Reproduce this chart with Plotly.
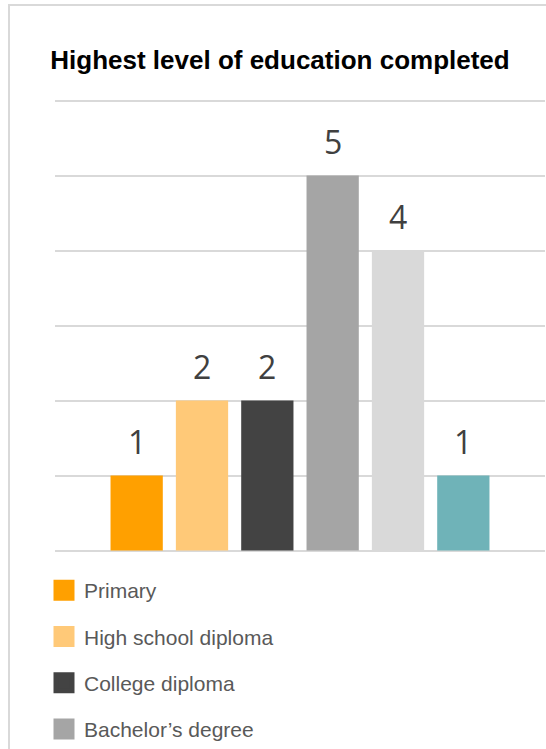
import plotly.graph_objects as go

categories = ["Primary", "High school diploma", "College diploma",
              "Bachelor’s degree", "Master’s degree", "Other"]
values = [1, 2, 2, 5, 4, 1]
colors = ["#FFA000", "#FFC978", "#434343", "#A5A5A5", "#D9D9D9", "#6FB3B8"]
title_text = "Highest level of education completed"

W, H = 546, 749
ML, MR, MT, MB = 55, 1, 99, 197

fig = go.Figure()
for i, (cat, val, col) in enumerate(zip(categories, values, colors)):
    fig.add_trace(go.Bar(
        x=[cat], y=[val], name=cat, marker=dict(color=col, line=dict(width=0)),
        showlegend=False, hoverinfo="skip",
    ))
    fig.add_annotation(
        x=cat, y=val, text=str(val), showarrow=False, yanchor="bottom", yshift=11,
        font=dict(family="Open Sans", size=32, color="#404040"),
    )

# legend entries (square swatches like the original)
for i, (cat, col) in enumerate(zip(categories, colors)):
    fig.add_trace(go.Scatter(
        x=[None], y=[None], mode="markers", name=cat, legendgroup=f"g{i}",
        marker=dict(symbol="square", size=16, color=col, line=dict(color=col, width=5)),
        showlegend=True, hoverinfo="skip",
    ))

ph = H - MT - MB
pw = W - ML - MR
def px2paper_x(px):
    return (px - ML) / pw
def px2paper_y(py):
    return (H - MB - py) / ph

# chart frame
fig.add_shape(type="rect", xref="paper", yref="paper",
              x0=px2paper_x(9), x1=px2paper_x(600), y0=px2paper_y(5), y1=px2paper_y(800),
              line=dict(color="#D9D9D9", width=2), fillcolor="rgba(0,0,0,0)", layer="below")

fig.update_layout(
    width=W, height=H,
    margin=dict(l=ML, r=MR, t=MT, b=MB, autoexpand=False),
    paper_bgcolor="white", plot_bgcolor="white",
    barmode="overlay", bargap=0.2,
    title=dict(text=f"<b>{title_text}</b>", x=280 / W, xanchor="center", xref="container",
               y=1 - 60 / H, yanchor="middle", yref="container",
               font=dict(family="Liberation Sans", size=26, color="#000000")),
    xaxis=dict(type="category", categoryorder="array", categoryarray=categories,
               range=[-1.25, 6.25], showticklabels=False, showgrid=False,
               zeroline=False, showline=False, ticks=""),
    yaxis=dict(range=[-0.02, 6.02], tickvals=[0, 1, 2, 3, 4, 5, 6], showticklabels=False,
               showgrid=True, gridcolor="#D9D9D9", gridwidth=1.5, zeroline=False,
               showline=False, ticks=""),
    showlegend=True,
    legend=dict(orientation="v", x=px2paper_x(44), xanchor="left",
                y=px2paper_y(570), yanchor="top", traceorder="grouped",
                tracegroupgap=16, font=dict(family="Liberation Sans", size=21, color="#595959"),
                bgcolor="rgba(0,0,0,0)", itemclick=False, itemdoubleclick=False),
)

fig.write_html("out.html")
